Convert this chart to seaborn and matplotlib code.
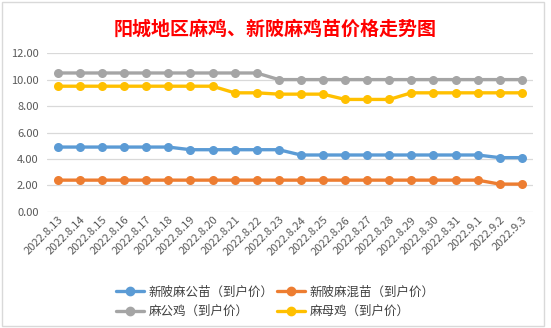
import matplotlib
matplotlib.use("Agg")
import matplotlib.pyplot as plt
import seaborn as sns
import pandas as pd
from matplotlib.ticker import FormatStrFormatter
from matplotlib.patches import Rectangle

dates = ["2022.8.13", "2022.8.14", "2022.8.15", "2022.8.16", "2022.8.17", "2022.8.18",
         "2022.8.19", "2022.8.20", "2022.8.21", "2022.8.22", "2022.8.23", "2022.8.24",
         "2022.8.25", "2022.8.26", "2022.8.27", "2022.8.28", "2022.8.29", "2022.8.30",
         "2022.8.31", "2022.9.1", "2022.9.2", "2022.9.3"]
xl_gongmiao = [4.9, 4.9, 4.9, 4.9, 4.9, 4.9, 4.7, 4.7, 4.7, 4.7, 4.7, 4.3,
               4.3, 4.3, 4.3, 4.3, 4.3, 4.3, 4.3, 4.3, 4.1, 4.1]
xl_hunmiao = [2.4, 2.4, 2.4, 2.4, 2.4, 2.4, 2.4, 2.4, 2.4, 2.4, 2.4, 2.4,
              2.4, 2.4, 2.4, 2.4, 2.4, 2.4, 2.4, 2.4, 2.1, 2.1]
ma_gongji = [10.5, 10.5, 10.5, 10.5, 10.5, 10.5, 10.5, 10.5, 10.5, 10.5, 10.0, 10.0,
             10.0, 10.0, 10.0, 10.0, 10.0, 10.0, 10.0, 10.0, 10.0, 10.0]
ma_muji = [9.5, 9.5, 9.5, 9.5, 9.5, 9.5, 9.5, 9.5, 9.0, 9.0, 8.9, 8.9,
           8.9, 8.5, 8.5, 8.5, 9.0, 9.0, 9.0, 9.0, 9.0, 9.0]
series_names = ["新陂麻公苗（到户价）", "新陂麻混苗（到户价）", "麻公鸡（到户价）", "麻母鸡（到户价）"]
colors = ["#5B9BD5", "#ED7D31", "#A5A5A5", "#FFC000"]
title = "阳城地区麻鸡、新陂麻鸡苗价格走势图"

sns.set_theme(style="white")
plt.rcParams["font.family"] = ["Noto Sans CJK SC", "DejaVu Sans"]

rows = []
for name, vals in zip(series_names, [xl_gongmiao, xl_hunmiao, ma_gongji, ma_muji]):
    for d, v in zip(dates, vals):
        rows.append({"date": d, "price": v, "series": name})
df = pd.DataFrame(rows)

fig = plt.figure(figsize=(5.51, 3.28), dpi=100)
fig.patch.set_facecolor("white")
ax = fig.add_axes([0.085, 0.354, 0.882, 0.484])

sns.lineplot(data=df, x="date", y="price", hue="series", hue_order=series_names,
             palette=colors, marker="o", markersize=6.5, markeredgewidth=0,
             linewidth=2.4, ax=ax, legend=False, sort=False)

ax.set_xlim(-0.5, len(dates) - 0.5)
ax.set_ylim(0, 12)
ax.set_yticks([0, 2, 4, 6, 8, 10, 12])
ax.yaxis.set_major_formatter(FormatStrFormatter("%.2f"))
ax.grid(axis="y", color="#D9D9D9", linewidth=0.9)
ax.set_axisbelow(True)
for s in ax.spines.values():
    s.set_visible(False)
ax.set_xlabel("")
ax.set_ylabel("")
ax.tick_params(axis="y", labelsize=8, colors="#595959", length=0, pad=6)
ax.tick_params(axis="x", labelsize=8, colors="#595959", length=0, pad=2)
plt.setp(ax.get_xticklabels(), rotation=45, ha="right", rotation_mode="anchor")

fig.suptitle(title, x=0.5, y=0.94, fontsize=13.7, color="#FF0000", fontweight="bold")

# row-major legend order: matplotlib fills columns first
order = [0, 2, 1, 3]
handles = [plt.Line2D([], [], color=colors[i], marker="o", markersize=6, linewidth=2.4) for i in order]
labels = [series_names[i] for i in order]
fig.legend(handles, labels, loc="center", bbox_to_anchor=(0.5, 0.08), ncol=2,
           frameon=False, fontsize=9, handlelength=2.2, columnspacing=0.3,
           handletextpad=0.4, labelspacing=0.55, labelcolor="#404040")

fig.patches.append(Rectangle((0.003, 0.005), 0.985, 0.99, transform=fig.transFigure,
                             fill=False, edgecolor="#D9D9D9", linewidth=1))

fig.savefig("out.png", dpi=100)
